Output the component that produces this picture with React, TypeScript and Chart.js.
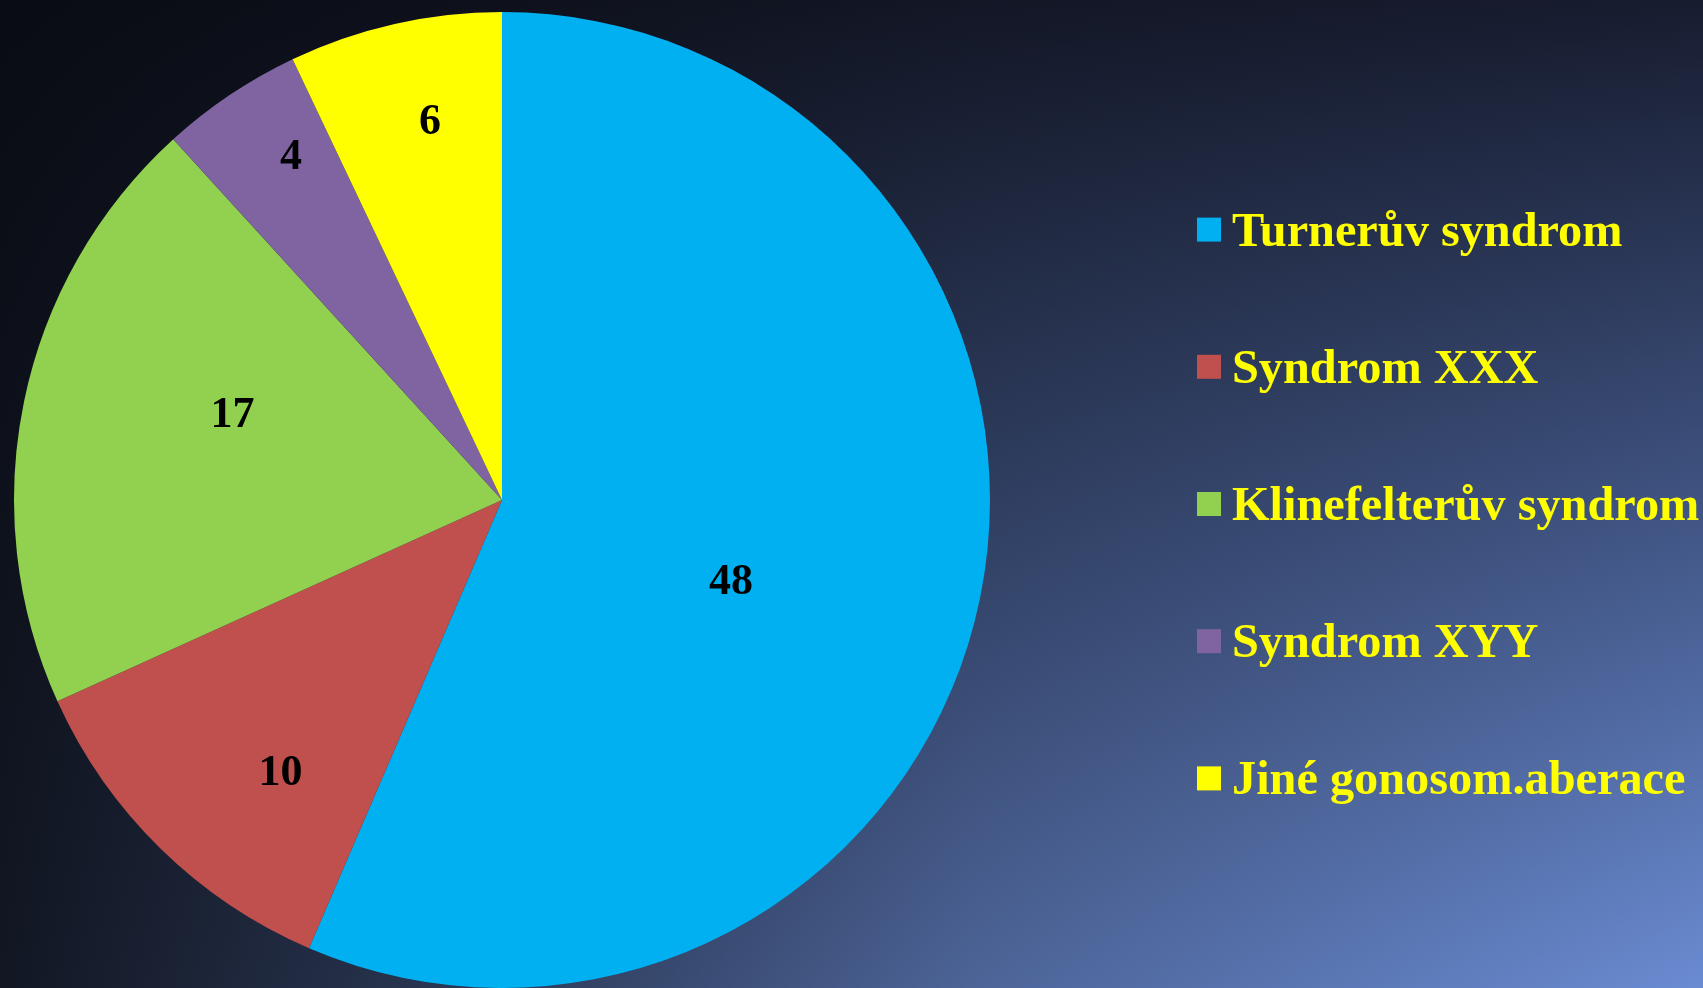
import React, { useEffect, useRef } from "react";
import { Chart, registerables } from "chart.js";

Chart.register(...registerables);

const categories = [
  "Turnerův syndrom",
  "Syndrom XXX",
  "Klinefelterův syndrom",
  "Syndrom XYY",
  "Jiné gonosom.aberace",
];
const values = [48, 10, 17, 4, 6];
const sliceColors = ["#00B0F0", "#C0504D", "#92D050", "#8064A2", "#FFFF00"];

// label layout (angle shift in degrees from slice mid-angle, radius fraction)
const labelAngleShift = [7.6, -5.2, 6.4, 2.5, 2.0];
const labelRadiusFrac = [0.497, 0.717, 0.581, 0.83, 0.794];

const W = 1703;
const H = 988;

const backgroundPlugin = {
  id: "bgGradient",
  beforeDraw(chart: any) {
    const ctx = chart.ctx as CanvasRenderingContext2D;
    ctx.save();
    const v = ctx.createLinearGradient(0, 0, 0, H);
    v.addColorStop(0, "#171c2f");
    v.addColorStop(0.5, "#3f5381");
    v.addColorStop(1, "#6a8bd2");
    ctx.fillStyle = v;
    ctx.fillRect(0, 0, W, H);
    const h = ctx.createLinearGradient(0, 0, W, 0);
    h.addColorStop(0, "rgba(8,10,16,0.9)");
    h.addColorStop(0.2, "rgba(8,10,16,0.72)");
    h.addColorStop(0.57, "rgba(8,10,16,0.3)");
    h.addColorStop(1, "rgba(8,10,16,0)");
    ctx.fillStyle = h;
    ctx.fillRect(0, 0, W, H);
    ctx.restore();
  },
};

const labelPlugin = {
  id: "sliceLabels",
  afterDatasetsDraw(chart: any) {
    const ctx = chart.ctx as CanvasRenderingContext2D;
    const meta = chart.getDatasetMeta(0);
    ctx.save();
    ctx.font = "bold 44px 'Liberation Serif', 'Times New Roman', serif";
    ctx.fillStyle = "#000000";
    ctx.textAlign = "center";
    ctx.textBaseline = "middle";
    meta.data.forEach((arc: any, i: number) => {
      const p = arc.getProps(["x", "y", "startAngle", "endAngle", "outerRadius"], true);
      const mid = (p.startAngle + p.endAngle) / 2 + (labelAngleShift[i] * Math.PI) / 180;
      const r = p.outerRadius * labelRadiusFrac[i];
      ctx.fillText(String(values[i]), p.x + Math.cos(mid) * r, p.y + Math.sin(mid) * r + 3);
    });
    ctx.restore();
  },
};

const legendPlugin = {
  id: "customLegend",
  afterDraw(chart: any) {
    const ctx = chart.ctx as CanvasRenderingContext2D;
    const labels = chart.data.labels as string[];
    const colors = chart.data.datasets[0].backgroundColor as string[];
    const x0 = 1197;
    const box = 24;
    const spacing = 137.2;
    const centerY = 503;
    ctx.save();
    ctx.font = "bold 48.3px 'Liberation Serif', 'Times New Roman', serif";
    ctx.textAlign = "left";
    ctx.textBaseline = "alphabetic";
    labels.forEach((lab, i) => {
      const cy = centerY + (i - 2) * spacing;
      ctx.fillStyle = colors[i];
      ctx.fillRect(x0, cy - box / 2 + 1, box, box);
      ctx.fillStyle = "#FFFF00";
      ctx.fillText(lab, x0 + 35, cy + 17);
    });
    ctx.restore();
  },
};

export default function App() {
  const ref = useRef<HTMLCanvasElement | null>(null);
  useEffect(() => {
    if (!ref.current) return;
    const chart = new Chart(ref.current, {
      type: "pie",
      data: {
        labels: categories,
        datasets: [
          {
            data: values,
            backgroundColor: sliceColors,
            borderWidth: 0,
          },
        ],
      },
      options: {
        responsive: false,
        animation: false,
        layout: { padding: { left: 14, right: W - 990, top: 12, bottom: 0 } },
        plugins: {
          legend: { display: false },
          tooltip: { enabled: false },
        },
      },
      plugins: [backgroundPlugin, labelPlugin, legendPlugin],
    });
    return () => chart.destroy();
  }, []);
  return (
    <div style={{ position: "fixed", left: 0, top: 0, width: W, height: H, overflow: "hidden" }}>
      <canvas ref={ref} width={W} height={H} style={{ display: "block", width: W, height: H }} />
    </div>
  );
}
